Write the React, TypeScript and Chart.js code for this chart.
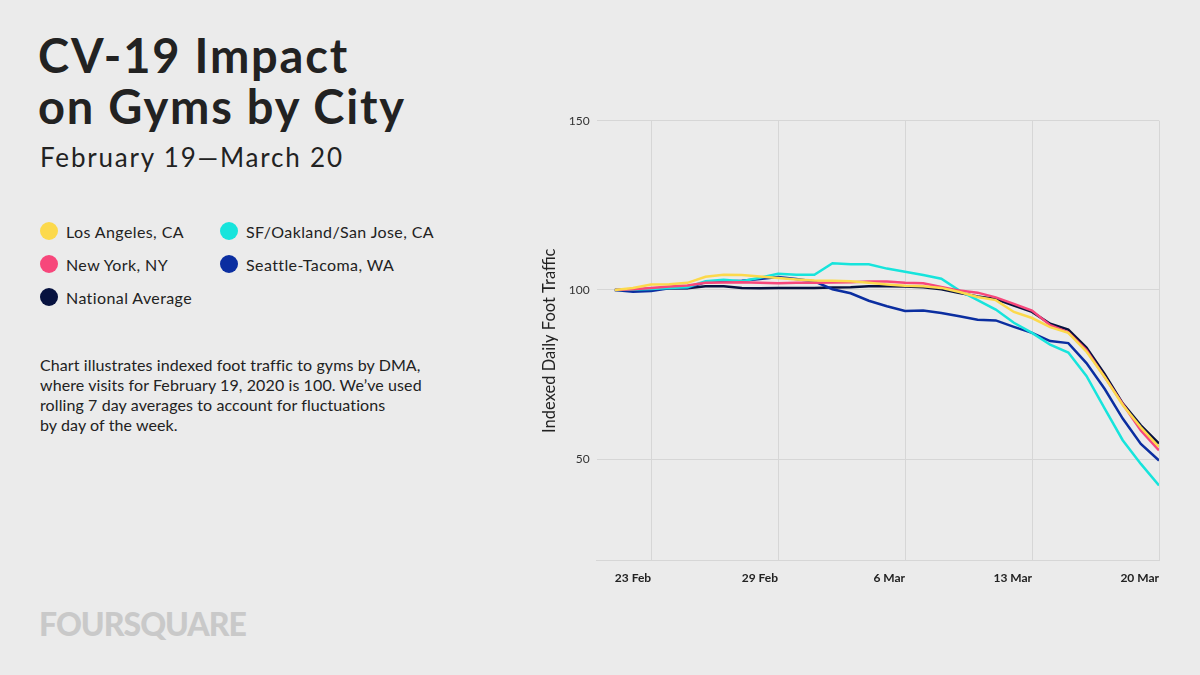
import React, { useEffect, useRef } from "react";
import { Chart, registerables } from "chart.js";

Chart.register(...registerables);

const dayLabels = [
  "19 Feb", "20 Feb", "21 Feb", "22 Feb", "23 Feb", "24 Feb", "25 Feb", "26 Feb", "27 Feb", "28 Feb", "29 Feb",
  "1 Mar", "2 Mar", "3 Mar", "4 Mar", "5 Mar", "6 Mar", "7 Mar", "8 Mar", "9 Mar", "10 Mar",
  "11 Mar", "12 Mar", "13 Mar", "14 Mar", "15 Mar", "16 Mar", "17 Mar", "18 Mar", "19 Mar", "20 Mar",
];

const losAngeles = [
  100, 100.6, 101.6, 101.7, 102.1, 103.9, 104.5, 104.4, 104.0, 103.5, 103.1,
  102.8, 102.7, 102.6, 102.1, 101.6, 101.2, 101.1, 100.6, 99.4, 97.9,
  97.0, 93.5, 91.7, 89.0, 87.3, 81.8, 74.3, 66.0, 59.4, 53.6,
];
const newYork = [
  100, 100.2, 100.6, 101.0, 101.3, 102.1, 102.2, 102.3, 102.1, 102.0, 102.1,
  102.1, 102.2, 102.3, 102.5, 102.5, 102.1, 102.0, 100.9, 99.8, 99.2,
  97.8, 95.9, 93.9, 89.6, 87.5, 82.2, 74.3, 66.3, 58.5, 52.6,
];
const sfBay = [
  100, 100.1, 100.3, 100.6, 100.8, 102.6, 103.0, 102.6, 103.6, 104.8, 104.5,
  104.5, 107.9, 107.6, 107.6, 106.3, 105.4, 104.4, 103.3, 99.8, 97.0,
  94.2, 90.3, 87.3, 83.8, 81.5, 74.6, 65.0, 55.6, 48.6, 42.2,
];
const seattle = [
  100, 99.5, 99.7, 100.5, 100.6, 102.3, 102.5, 102.7, 103.2, 103.8, 103.2,
  102.5, 100.2, 99.0, 96.8, 95.2, 93.8, 93.9, 93.2, 92.2, 91.2,
  91.0, 89.1, 87.3, 84.9, 84.3, 78.4, 70.8, 62.0, 54.5, 49.6,
];
const national = [
  100, 100.1, 100.3, 100.5, 100.5, 101.1, 101.1, 100.6, 100.5, 100.6, 100.6,
  100.6, 100.7, 100.8, 101.1, 101.1, 101.0, 100.8, 100.2, 99.1, 98.1,
  97.3, 95.4, 93.5, 90.0, 88.3, 83.0, 75.2, 66.5, 60.0, 54.6,
];

const xTickIndex = [2, 9, 16, 23, 30];
const xTickLabels = ["23 Feb", "29 Feb", "6 Mar", "13 Mar", "20 Mar"];
const yTickValues = [50, 100, 150];

const seriesNames = [
  "Los Angeles, CA",
  "New York, NY",
  "SF/Oakland/San Jose, CA",
  "Seattle-Tacoma, WA",
  "National Average",
];
const seriesColors = ["#FCD94C", "#F7477B", "#17E4DC", "#0B2EA0", "#07123F"];
const seriesValues = [losAngeles, newYork, sfBay, seattle, national];

const FONT = "Lato, 'Noto Sans', sans-serif";
const TEXT = "#222222";

function LegendItem({ name, color, left, top }: { name: string; color: string; left: number; top: number }) {
  return (
    <div style={{ position: "absolute", left, top, height: 20, display: "flex", alignItems: "center" }}>
      <div style={{ width: 18, height: 18, borderRadius: 9, background: color, marginRight: 8 }} />
      <span style={{ fontSize: 16, color: TEXT, fontFamily: FONT, whiteSpace: "nowrap", letterSpacing: 0.4 }}>{name}</span>
    </div>
  );
}

export default function App() {
  const canvasRef = useRef<HTMLCanvasElement | null>(null);

  useEffect(() => {
    if (!canvasRef.current) return;
    const chart = new Chart(canvasRef.current, {
      type: "line",
      data: {
        datasets: seriesValues.map((vals, i) => ({
          label: seriesNames[i],
          data: vals.map((v, j) => ({ x: j, y: v, day: dayLabels[j] })),
          borderColor: seriesColors[i],
          backgroundColor: seriesColors[i],
          borderWidth: 2.5,
          pointRadius: 0,
          tension: 0,
          fill: false,
        })),
      },
      options: {
        animation: false,
        responsive: true,
        maintainAspectRatio: false,
        layout: { padding: { top: 20.7, right: 11, left: 10, bottom: 0 } },
        plugins: { legend: { display: false }, tooltip: { enabled: false } },
        scales: {
          x: {
            type: "linear",
            min: -1,
            max: 30,
            afterBuildTicks: (scale: any) => {
              scale.ticks = xTickIndex.map((v) => ({ value: v }));
            },
            afterFit: (scale: any) => {
              scale.height = 59.3;
            },
            ticks: {
              autoSkip: false,
              maxRotation: 0,
              align: "end",
              padding: 10,
              color: TEXT,
              font: { family: FONT, size: 12, weight: "bold" },
              callback: (value: any) => {
                const k = xTickIndex.indexOf(Number(value));
                return k >= 0 ? xTickLabels[k] : "";
              },
            },
            grid: { color: "#D6D6D6", drawTicks: false, lineWidth: 1 },
            border: { display: true, color: "#D6D6D6" },
          },
          y: {
            min: 20,
            max: 150,
            afterBuildTicks: (scale: any) => {
              scale.ticks = yTickValues.map((v) => ({ value: v }));
            },
            afterFit: (scale: any) => {
              scale.width = 56.7;
            },
            ticks: {
              padding: 7,
              color: "#333333",
              font: { family: FONT, size: 12 },
            },
            grid: { color: "#D6D6D6", drawTicks: false, lineWidth: 1 },
            border: { display: false },
            title: {
              display: true,
              text: "Indexed Daily Foot Traffic",
              color: TEXT,
              font: { family: FONT, size: 16.5 },
              padding: { top: 0, bottom: 0 },
            },
          },
        },
      },
    });
    return () => chart.destroy();
  }, []);

  return (
    <div
      style={{
        position: "absolute",
        left: 0,
        top: 0,
        width: 1200,
        height: 675,
        background: "#EBEBEB",
        overflow: "hidden",
        fontFamily: FONT,
        color: TEXT,
      }}
    >
      <div style={{ position: "absolute", left: 38, top: 30, fontSize: 47, fontWeight: 700, lineHeight: "51px", letterSpacing: 1.8, color: TEXT, whiteSpace: "nowrap" }}>
        CV-19 Impact
        <br />
        on Gyms by City
      </div>
      <div style={{ position: "absolute", left: 40, top: 142, fontSize: 26, lineHeight: "30px", letterSpacing: 1.8, color: TEXT, whiteSpace: "nowrap" }}>
        February 19—March 20
      </div>

      <LegendItem name={seriesNames[0]} color={seriesColors[0]} left={40} top={221} />
      <LegendItem name={seriesNames[2]} color={seriesColors[2]} left={220} top={221} />
      <LegendItem name={seriesNames[1]} color={seriesColors[1]} left={40} top={254} />
      <LegendItem name={seriesNames[3]} color={seriesColors[3]} left={220} top={254} />
      <LegendItem name={seriesNames[4]} color={seriesColors[4]} left={40} top={287} />

      <div style={{ position: "absolute", left: 40, top: 355, width: 420, fontSize: 16, lineHeight: "20px", letterSpacing: 0.1, color: TEXT }}>
        Chart illustrates indexed foot traffic to gyms by DMA,
        <br />
        where visits for February 19, 2020 is 100. We’ve used
        <br />
        rolling 7 day averages to account for fluctuations
        <br />
        by day of the week.
      </div>

      <div style={{ position: "absolute", left: 39, top: 604, fontSize: 32, fontWeight: 900, lineHeight: "40px", color: "#C9C9C9", letterSpacing: -1, whiteSpace: "nowrap" }}>
        FOURSQUARE
      </div>

      <div style={{ position: "absolute", left: 530, top: 100, width: 640, height: 520 }}>
        <canvas ref={canvasRef} />
      </div>
    </div>
  );
}
